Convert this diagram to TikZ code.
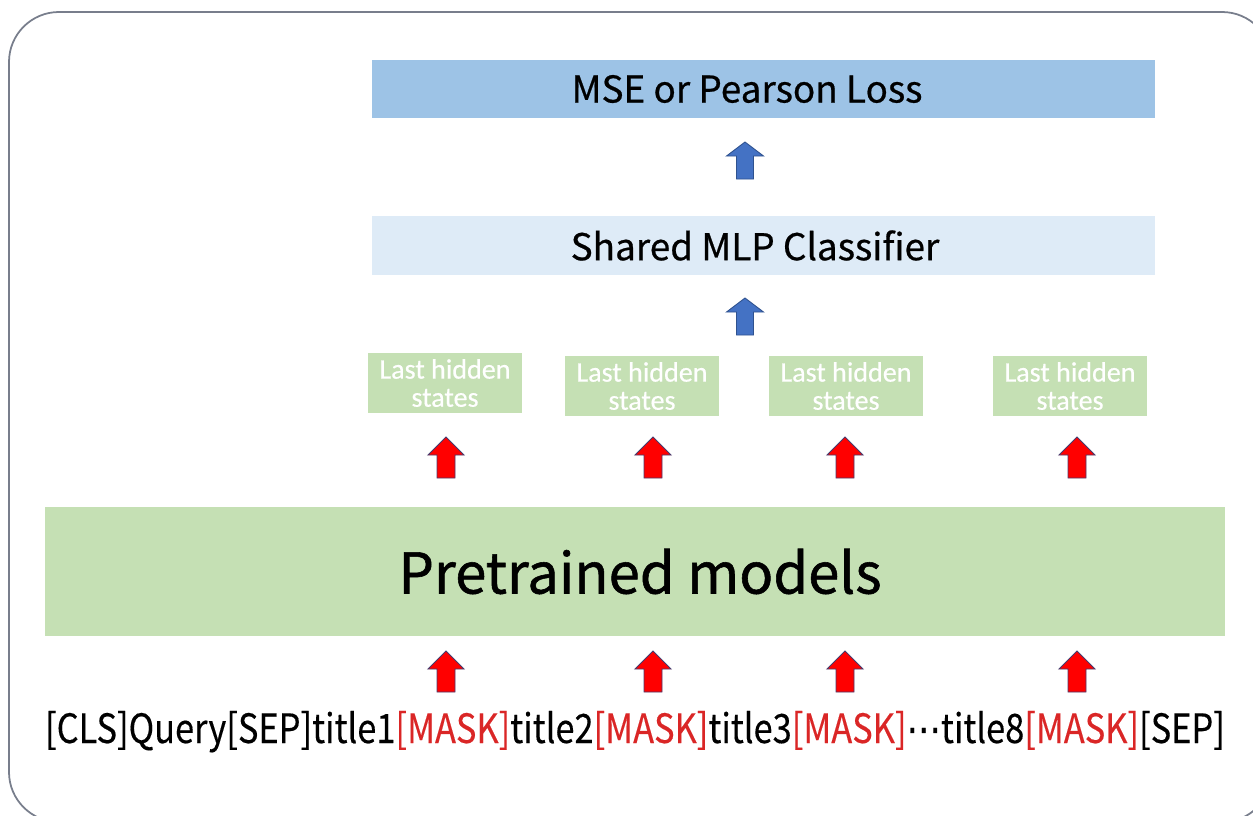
\documentclass[tikz,border=0pt]{standalone}
\usepackage{fontspec}
\usepackage{graphicx}
\setmainfont{Noto Sans CJK SC}
\newfontfamily\medf{Noto Sans CJK SC}[FakeBold=0.6]
\newfontfamily\bigf{Noto Sans CJK SC}[FakeBold=1.0]
\newfontfamily\inpf{Noto Sans CJK SC}[FakeBold=0.3]
\newfontfamily\calf{Carlito}[FakeBold=0.5]
\newfontfamily\dvs{DejaVu Sans}[FakeBold=0.3]
\definecolor{lossblue}{RGB}{157,195,230}
\definecolor{mlpblue}{RGB}{222,235,247}
\definecolor{lgreen}{RGB}{197,224,180}
\definecolor{arrblue}{RGB}{68,114,196}
\definecolor{arrblueedge}{RGB}{47,82,143}
\definecolor{arrred}{RGB}{255,0,0}
\definecolor{arrrededge}{RGB}{70,60,110}
\definecolor{maskred}{RGB}{218,38,38}
\definecolor{framegray}{RGB}{120,126,140}
\begin{document}
\begin{tikzpicture}[x=0.02cm,y=-0.02cm,
  box/.style={rectangle,inner sep=0pt,align=center},
  hidbox/.style={box,fill=lgreen,minimum width=3.08cm,minimum height=1.2cm,
     text=white,font=\calf\fontsize{16}{16}\selectfont},
  redup/.pic={\draw[fill=arrred,draw=arrrededge,line width=0.5pt,line join=miter]
     (-9,0) -- (-9,-23) -- (-18,-23) -- (0,-41) -- (18,-23) -- (9,-23) -- (9,0) -- cycle;},
  blueup/.pic={\draw[fill=arrblue,draw=arrblueedge,line width=0.5pt,line join=miter]
     (-8.5,0) -- (-8.5,-23) -- (-18.5,-23) -- (0,-37) -- (18.5,-23) -- (8.5,-23) -- (8.5,0) -- cycle;}
]
\useasboundingbox (0,0) rectangle (1253,815);
% outer frame
\draw[framegray,line width=1pt,rounded corners=1cm] (9,12) rectangle (1272,822);

\node[box,fill=lossblue,minimum width=15.66cm,minimum height=1.16cm] (loss) at (763.5,89) {};
\node[box,font=\medf\fontsize{21}{24}\selectfont] (losst) at (747,89) {MSE or Pearson Loss};
\node[box,fill=mlpblue,minimum width=15.66cm,minimum height=1.18cm] (mlp) at (763.5,245.5) {};
\node[box,font=\medf\fontsize{21}{24}\selectfont] (mlpt) at (755,245.5) {Shared MLP Classifier};

\node[hidbox] (h1) at (445,383) {Last hidden\\states};
\node[hidbox] (h2) at (642,386) {Last hidden\\states};
\node[hidbox] (h3) at (846,386) {Last hidden\\states};
\node[hidbox] (h4) at (1070,386) {Last hidden\\states};

\node[box,fill=lgreen,minimum width=23.6cm,minimum height=2.58cm] (pm) at (635,571.5) {};
\node[box,font=\bigf\fontsize{32}{36}\selectfont] (pmt) at (640,571.5) {Pretrained models};

\node[box,font=\inpf\fontsize{23}{26}\selectfont,anchor=base] (inp) at (635,743)
  {\resizebox{23.6cm}{\height}{[CLS]Query[SEP]title1\textcolor{maskred}{[MASK]}title2\textcolor{maskred}{[MASK]}title3\textcolor{maskred}{[MASK]}{\dvs ⋯}title8\textcolor{maskred}{[MASK]}[SEP]}};

% blue arrows
\coordinate (b1) at (745,179);
\coordinate (b2) at (745,335);
\pic at (b1) {blueup};
\pic at (b2) {blueup};

% red arrows
\foreach \i/\x in {1/446,2/653,3/845,4/1077}{
  \coordinate (ru\i) at (\x,478);
  \pic at (ru\i) {redup};
  \coordinate (rl\i) at (\x,692);
  \pic at (rl\i) {redup};
}
\end{tikzpicture}
\end{document}
